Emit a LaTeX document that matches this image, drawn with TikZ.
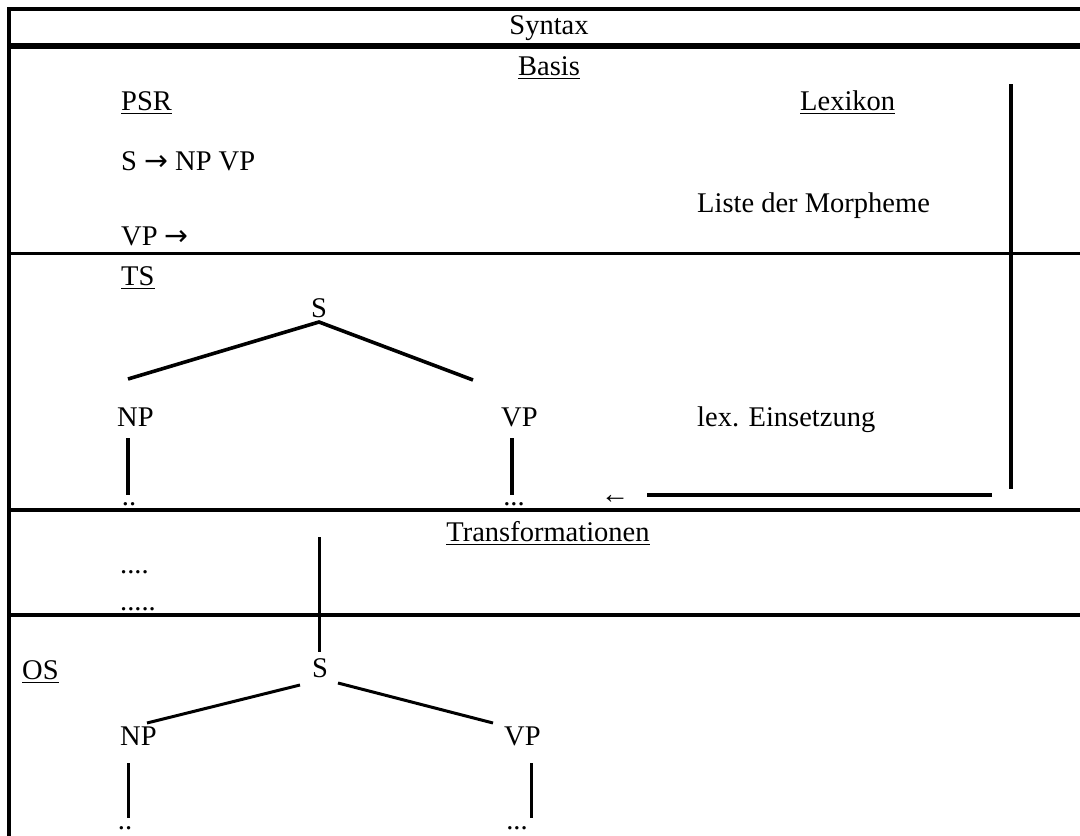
\documentclass[tikz,border=0pt]{standalone}
\usepackage{fontspec}
\setmainfont{Liberation Serif}
\newfontfamily\arrowfont{DejaVu Sans}
\newcommand\ulnode[1]{\draw[ulline] ([yshift=-3.5pt]#1.base west) -- ([yshift=-3.5pt]#1.base east);}
\begin{document}
\begin{tikzpicture}[x=1pt,y=-1pt,
  txt/.style={inner sep=0pt,font=\fontsize{28.5}{34}\selectfont},
  lt/.style={txt,anchor=base west},
  ct/.style={txt,anchor=base},
  frame/.style={line width=4pt},
  thinframe/.style={line width=3pt},
  conn/.style={line width=3.6pt},
  connthin/.style={line width=3pt},
  ulline/.style={line width=1.8pt}]
\useasboundingbox (0,0) rectangle (1080,836);
% frame
\draw[frame] (9,836) -- (9,9) -- (1090,9);
\draw[line width=5.5pt] (7,46) -- (1090,46);
\draw[thinframe] (7,253) -- (1090,253);
\draw[frame] (7,510) -- (1090,510);
\draw[frame] (7,615) -- (1090,615);
% headings
\node[ct] (syntax) at (549,34) {Syntax};
\node[ct] (basis) at (549,75) {Basis}; \ulnode{basis}
\node[lt] (psr) at (121,110) {PSR}; \ulnode{psr}
\node[lt] (lexikon) at (800,110) {Lexikon}; \ulnode{lexikon}
\node[lt] (r1) at (121,170) {S {\arrowfont →} NP VP};
\node[lt] (liste) at (697,212) {Liste der Morpheme};
\node[lt] (r2) at (121,245) {VP {\arrowfont →}};
% TS
\node[lt] (ts) at (121,285) {TS}; \ulnode{ts}
\node[ct] (s1) at (319,317) {S};
\node[lt] (np1) at (117,426) {NP};
\node[lt] (vp1) at (501,426) {VP};
\node[lt] (lex) at (697,426) {lex. Einsetzung};
\node[ct] (d1) at (129,505) {..};
\node[ct] (d2) at (514,505) {...};
\coordinate (a1) at (319,322);
\coordinate (l1) at (128,379);
\coordinate (r1e) at (473,380);
\draw[conn] (l1) -- (a1) -- (r1e);
\coordinate (v1a) at (128,438); \coordinate (v1b) at (128,495);
\coordinate (v2a) at (512,438); \coordinate (v2b) at (512,495);
\draw[conn] (v1a) -- (v1b);
\draw[conn] (v2a) -- (v2b);
% lexikon link
\coordinate (lxa) at (1011,84); \coordinate (lxb) at (1011,489);
\draw[conn] (lxa) -- (lxb);
\node[ct] (larr) at (615,503) {←};
\coordinate (ha) at (992,495); \coordinate (hb) at (647,495);
\draw[conn] (ha) -- (hb);
% Transformationen
\node[ct] (trans) at (548,541) {Transformationen}; \ulnode{trans}
\node[lt] (t1) at (120,573) {....};
\node[lt] (t2) at (120,610) {.....};
\coordinate (ta) at (319,537); \coordinate (tb) at (319,652);
\draw[connthin] (ta) -- (tb);
% OS
\node[lt] (os) at (22,679) {OS}; \ulnode{os}
\node[ct] (s2) at (320,677) {S};
\node[lt] (np2) at (120,745) {NP};
\node[lt] (vp2) at (504,745) {VP};
\coordinate (l2a) at (147,723); \coordinate (l2b) at (300,685);
\coordinate (r2a) at (338,683); \coordinate (r2b) at (493,723);
\draw[connthin] (l2a) -- (l2b);
\draw[connthin] (r2a) -- (r2b);
\coordinate (v3a) at (128,763); \coordinate (v3b) at (128,818);
\coordinate (v4a) at (531,763); \coordinate (v4b) at (531,818);
\draw[connthin] (v3a) -- (v3b);
\draw[connthin] (v4a) -- (v4b);
\node[ct] (d3) at (125,829) {..};
\node[ct] (d4) at (517,829) {...};
\end{tikzpicture}
\end{document}
